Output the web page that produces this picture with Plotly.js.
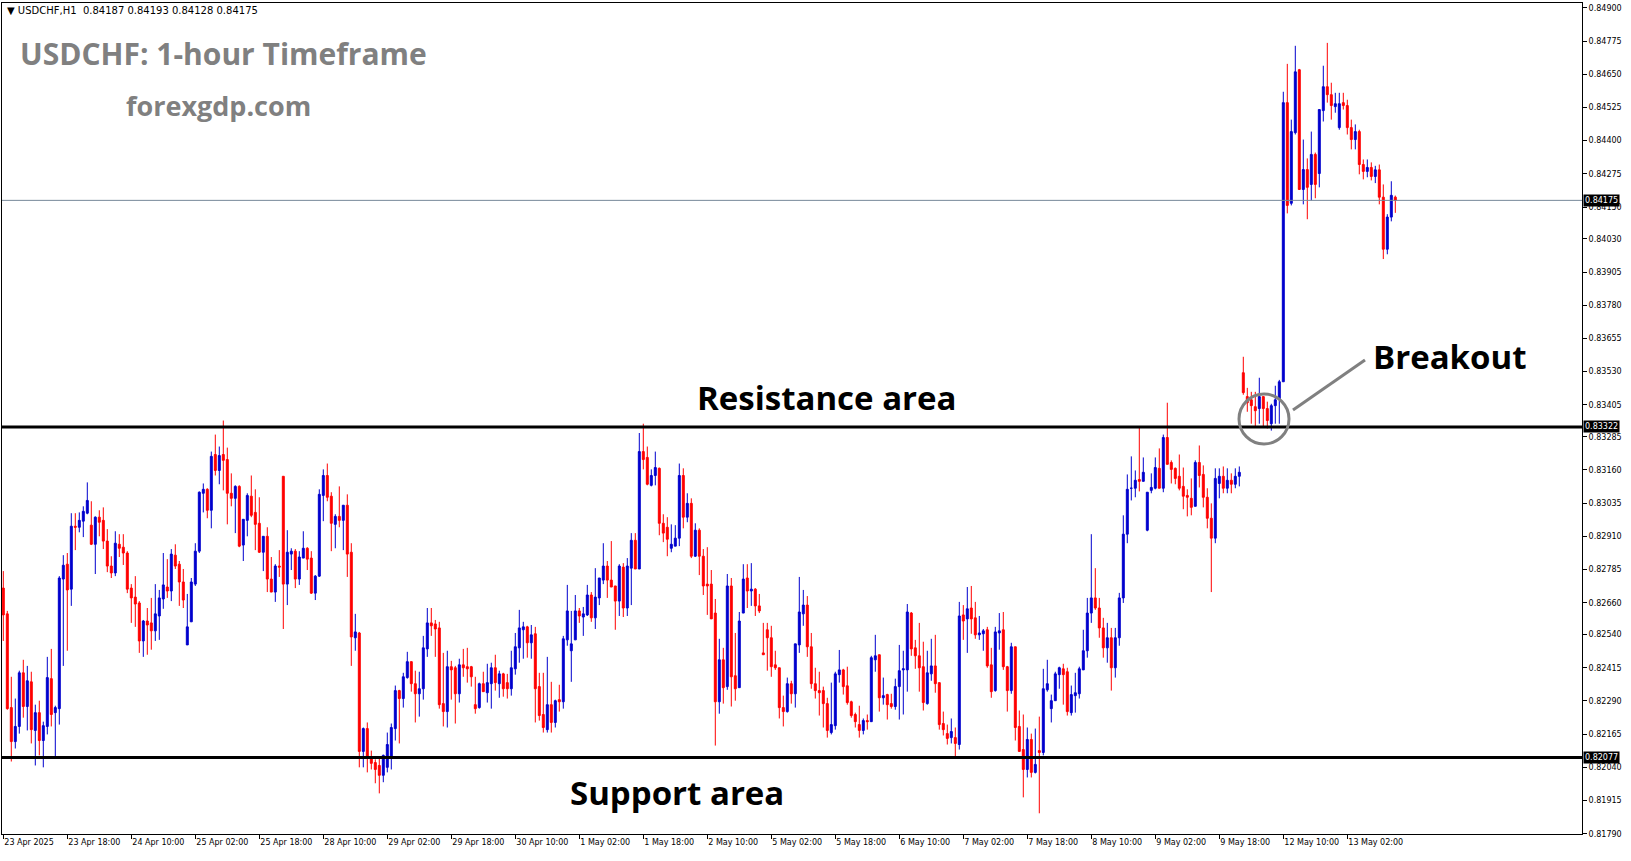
<!DOCTYPE html>
<html><head><meta charset="utf-8">
<script src="https://cdn.plot.ly/plotly-3.0.1.min.js"></script>
<style>html,body{margin:0;padding:0;background:#fff;}#chart{width:1631px;height:861px;}</style>
</head><body><div id="chart"></div>
<script>
const openP = [0.82715,0.82618,0.82265,0.82137,0.82194,0.82396,0.82269,0.82362,0.82179,0.82246,0.82141,0.82194,0.82374,0.82246,0.82261,0.82749,0.82805,0.82711,0.82948,0.82944,0.82967,0.82997,0.82952,0.82880,0.82982,0.82970,0.82892,0.82798,0.82772,0.82880,0.82869,0.82847,0.82715,0.82681,0.82659,0.82516,0.82591,0.82584,0.82554,0.82610,0.82674,0.82719,0.82704,0.82839,0.82805,0.82738,0.82501,0.82588,0.82730,0.82854,0.83072,0.83087,0.83008,0.83218,0.83158,0.83218,0.83199,0.83072,0.83053,0.83098,0.82877,0.82970,0.83061,0.83000,0.82959,0.82850,0.82910,0.82749,0.82700,0.82798,0.83136,0.82730,0.82843,0.82854,0.82749,0.82828,0.82865,0.82828,0.82696,0.82760,0.83064,0.83139,0.83061,0.82955,0.82985,0.82970,0.83027,0.82850,0.82528,0.82546,0.82100,0.82186,0.82073,0.82058,0.82047,0.82010,0.82040,0.82081,0.82186,0.82329,0.82299,0.82378,0.82438,0.82355,0.82317,0.82336,0.82486,0.82584,0.82580,0.82565,0.82280,0.82250,0.82419,0.82415,0.82317,0.82426,0.82419,0.82419,0.82276,0.82265,0.82355,0.82321,0.82355,0.82415,0.82355,0.82392,0.82359,0.82336,0.82411,0.82490,0.82558,0.82569,0.82509,0.82543,0.82344,0.82239,0.82182,0.82276,0.82209,0.82295,0.82287,0.82520,0.82479,0.82520,0.82629,0.82606,0.82614,0.82689,0.82603,0.82678,0.82745,0.82798,0.82745,0.82723,0.82666,0.82794,0.82640,0.82790,0.82895,0.82787,0.83229,0.83207,0.83102,0.83139,0.83166,0.82959,0.82944,0.82865,0.82873,0.82903,0.83139,0.82982,0.83034,0.82835,0.82933,0.82835,0.82730,0.82730,0.82621,0.82287,0.82445,0.82344,0.82723,0.82385,0.82340,0.82621,0.82753,0.82704,0.82711,0.82648,0.82471,0.82558,0.82528,0.82426,0.82415,0.82265,0.82250,0.82355,0.82317,0.82501,0.82618,0.82651,0.82494,0.82355,0.82329,0.82329,0.82280,0.82171,0.82197,0.82389,0.82407,0.82347,0.82287,0.82239,0.82201,0.82179,0.82216,0.82212,0.82445,0.82464,0.82302,0.82314,0.82280,0.82269,0.82344,0.82407,0.82407,0.82621,0.82490,0.82460,0.82419,0.82280,0.82392,0.82422,0.82359,0.82205,0.82167,0.82152,0.82152,0.82126,0.82614,0.82599,0.82640,0.82603,0.82539,0.82543,0.82558,0.82426,0.82329,0.82546,0.82558,0.82419,0.82329,0.82494,0.82194,0.82107,0.82032,0.82145,0.82021,0.82103,0.82096,0.82332,0.82261,0.82291,0.82389,0.82411,0.82400,0.82246,0.82310,0.82317,0.82407,0.82479,0.82621,0.82678,0.82640,0.82565,0.82490,0.82528,0.82415,0.82528,0.82678,0.82918,0.83091,0.83091,0.83124,0.83117,0.82933,0.83083,0.83091,0.83166,0.83091,0.83282,0.83188,0.83166,0.83136,0.83098,0.83064,0.83053,0.83023,0.83188,0.83143,0.83057,0.82978,0.82903,0.83109,0.83136,0.83091,0.83121,0.83106,0.83136,0.83526,0.83436,0.83424,0.83398,0.83391,0.83436,0.83391,0.83334,0.83402,0.83428,0.83492,0.84543,0.84164,0.84430,0.84667,0.84216,0.84291,0.84235,0.84348,0.84276,0.84513,0.84603,0.84573,0.84528,0.84449,0.84543,0.84532,0.84449,0.84404,0.84434,0.84310,0.84284,0.84299,0.84265,0.84290,0.84187,0.83991,0.84112,0.84187];
const highP = [0.82779,0.82629,0.82381,0.82299,0.82404,0.82445,0.82422,0.82400,0.82276,0.82291,0.82212,0.82456,0.82486,0.82272,0.82760,0.82839,0.82847,0.82997,0.82997,0.83000,0.83023,0.83113,0.83042,0.82985,0.83008,0.83019,0.82937,0.82835,0.82929,0.82918,0.82918,0.82854,0.82730,0.82760,0.82666,0.82595,0.82640,0.82678,0.82730,0.82708,0.82847,0.82824,0.82862,0.82880,0.82817,0.82787,0.82693,0.82753,0.82884,0.83079,0.83109,0.83091,0.83229,0.83293,0.83248,0.83346,0.83244,0.83147,0.83102,0.83102,0.82974,0.83072,0.83139,0.83087,0.83057,0.82910,0.82944,0.82832,0.82805,0.82858,0.83136,0.82933,0.82865,0.82862,0.82854,0.82929,0.82869,0.82854,0.82764,0.83087,0.83162,0.83184,0.83076,0.82993,0.83098,0.83027,0.83068,0.82884,0.82618,0.82550,0.82190,0.82209,0.82103,0.82070,0.82077,0.82088,0.82171,0.82205,0.82348,0.82332,0.82396,0.82475,0.82438,0.82404,0.82400,0.82535,0.82640,0.82640,0.82595,0.82588,0.82471,0.82479,0.82441,0.82422,0.82449,0.82486,0.82490,0.82422,0.82381,0.82359,0.82400,0.82430,0.82434,0.82464,0.82404,0.82396,0.82392,0.82479,0.82546,0.82633,0.82588,0.82573,0.82576,0.82569,0.82396,0.82396,0.82456,0.82362,0.82295,0.82351,0.82535,0.82727,0.82629,0.82689,0.82640,0.82644,0.82727,0.82700,0.82790,0.82753,0.82884,0.82817,0.82892,0.82723,0.82805,0.82809,0.82828,0.82922,0.82922,0.83299,0.83334,0.83248,0.83162,0.83229,0.83169,0.82993,0.82982,0.82955,0.82952,0.83184,0.83166,0.83072,0.83053,0.82959,0.82940,0.82862,0.82869,0.82783,0.82674,0.82524,0.82490,0.82768,0.82753,0.82546,0.82625,0.82805,0.82805,0.82809,0.82715,0.82693,0.82584,0.82584,0.82573,0.82479,0.82415,0.82310,0.82378,0.82366,0.82505,0.82757,0.82708,0.82685,0.82546,0.82415,0.82400,0.82344,0.82302,0.82359,0.82400,0.82482,0.82411,0.82419,0.82291,0.82246,0.82272,0.82224,0.82239,0.82460,0.82539,0.82464,0.82378,0.82317,0.82317,0.82374,0.82501,0.82479,0.82655,0.82625,0.82520,0.82584,0.82513,0.82479,0.82524,0.82539,0.82359,0.82250,0.82201,0.82224,0.82190,0.82663,0.82651,0.82719,0.82723,0.82663,0.82610,0.82561,0.82569,0.82490,0.82569,0.82621,0.82625,0.82422,0.82509,0.82494,0.82254,0.82239,0.82190,0.82167,0.82186,0.82231,0.82411,0.82445,0.82314,0.82400,0.82419,0.82430,0.82415,0.82348,0.82396,0.82419,0.82558,0.82678,0.82918,0.82790,0.82678,0.82603,0.82584,0.82565,0.82565,0.82697,0.82989,0.83143,0.83211,0.83158,0.83319,0.83207,0.83076,0.83147,0.83207,0.83241,0.83293,0.83413,0.83196,0.83169,0.83218,0.83169,0.83087,0.83128,0.83196,0.83252,0.83177,0.83091,0.83034,0.83166,0.83166,0.83173,0.83166,0.83147,0.83166,0.83173,0.83586,0.83469,0.83454,0.83454,0.83507,0.83436,0.83417,0.83409,0.83477,0.83499,0.84584,0.84689,0.84479,0.84757,0.84670,0.84404,0.84333,0.84434,0.84355,0.84517,0.84682,0.84768,0.84618,0.84580,0.84580,0.84580,0.84554,0.84479,0.84461,0.84441,0.84329,0.84329,0.84318,0.84305,0.84310,0.84235,0.84123,0.84247,0.84193];
const lowP = [0.82516,0.82257,0.82062,0.82111,0.82167,0.82227,0.82179,0.82130,0.82047,0.82085,0.82040,0.82164,0.82194,0.82081,0.82201,0.82422,0.82479,0.82648,0.82858,0.82925,0.82907,0.82993,0.82877,0.82768,0.82910,0.82862,0.82775,0.82753,0.82760,0.82832,0.82802,0.82696,0.82584,0.82569,0.82471,0.82456,0.82464,0.82483,0.82516,0.82520,0.82637,0.82678,0.82666,0.82787,0.82648,0.82640,0.82501,0.82588,0.82723,0.82847,0.83000,0.82978,0.82940,0.83139,0.83106,0.83083,0.82955,0.83023,0.82922,0.82869,0.82817,0.82910,0.82982,0.82858,0.82847,0.82779,0.82700,0.82700,0.82663,0.82757,0.82561,0.82651,0.82783,0.82715,0.82727,0.82828,0.82783,0.82693,0.82670,0.82757,0.82967,0.83042,0.82854,0.82865,0.82944,0.82858,0.82757,0.82422,0.82479,0.82040,0.82040,0.82021,0.82032,0.81980,0.81942,0.81984,0.82021,0.82032,0.82141,0.82130,0.82265,0.82374,0.82325,0.82209,0.82231,0.82295,0.82456,0.82535,0.82456,0.82261,0.82194,0.82190,0.82295,0.82205,0.82284,0.82381,0.82359,0.82344,0.82242,0.82261,0.82325,0.82284,0.82261,0.82329,0.82302,0.82306,0.82299,0.82310,0.82389,0.82434,0.82449,0.82453,0.82449,0.82209,0.82216,0.82171,0.82171,0.82171,0.82190,0.82250,0.82261,0.82498,0.82362,0.82520,0.82584,0.82535,0.82610,0.82588,0.82561,0.82651,0.82730,0.82678,0.82719,0.82558,0.82610,0.82606,0.82610,0.82651,0.82787,0.82787,0.83162,0.83102,0.83098,0.83102,0.82914,0.82888,0.82835,0.82850,0.82873,0.82873,0.82940,0.82963,0.82828,0.82832,0.82764,0.82689,0.82614,0.82599,0.82122,0.82242,0.82280,0.82332,0.82269,0.82291,0.82340,0.82621,0.82640,0.82648,0.82610,0.82621,0.82464,0.82404,0.82381,0.82407,0.82224,0.82194,0.82246,0.82280,0.82265,0.82471,0.82573,0.82456,0.82336,0.82299,0.82235,0.82190,0.82152,0.82164,0.82182,0.82359,0.82314,0.82276,0.82227,0.82190,0.82152,0.82164,0.82182,0.82212,0.82400,0.82250,0.82276,0.82220,0.82261,0.82257,0.82220,0.82239,0.82325,0.82460,0.82411,0.82325,0.82254,0.82276,0.82366,0.82321,0.82182,0.82160,0.82126,0.82130,0.82081,0.82107,0.82520,0.82471,0.82543,0.82524,0.82520,0.82479,0.82415,0.82302,0.82325,0.82483,0.82407,0.82250,0.82317,0.82141,0.82100,0.81927,0.82002,0.82002,0.82017,0.81867,0.82085,0.82325,0.82209,0.82291,0.82336,0.82276,0.82235,0.82235,0.82246,0.82299,0.82407,0.82453,0.82584,0.82633,0.82528,0.82453,0.82434,0.82329,0.82378,0.82498,0.82659,0.82884,0.83045,0.83057,0.83079,0.83117,0.82929,0.83072,0.83087,0.83091,0.83076,0.83181,0.83109,0.83106,0.83083,0.83012,0.82985,0.82989,0.83023,0.83094,0.83019,0.82940,0.82700,0.82884,0.83053,0.83072,0.83072,0.83072,0.83091,0.83098,0.83443,0.83379,0.83334,0.83323,0.83334,0.83323,0.83316,0.83308,0.83334,0.83334,0.83492,0.84126,0.84156,0.84423,0.84216,0.84160,0.84104,0.84175,0.84183,0.84224,0.84472,0.84543,0.84479,0.84505,0.84441,0.84517,0.84423,0.84367,0.84367,0.84273,0.84254,0.84262,0.84250,0.84240,0.84160,0.83954,0.83972,0.84096,0.84128];
const closeP = [0.82614,0.82261,0.82137,0.82194,0.82396,0.82269,0.82366,0.82182,0.82246,0.82141,0.82197,0.82378,0.82239,0.82265,0.82753,0.82801,0.82708,0.82948,0.82944,0.82970,0.83004,0.83045,0.82880,0.82982,0.82963,0.82892,0.82798,0.82772,0.82884,0.82865,0.82847,0.82711,0.82678,0.82655,0.82516,0.82591,0.82576,0.82554,0.82618,0.82678,0.82727,0.82704,0.82843,0.82798,0.82738,0.82670,0.82569,0.82738,0.82854,0.83076,0.83087,0.83008,0.83211,0.83158,0.83214,0.83196,0.83072,0.83053,0.83098,0.82873,0.82974,0.83064,0.82989,0.82955,0.82850,0.82910,0.82749,0.82700,0.82798,0.82794,0.82730,0.82850,0.82854,0.82749,0.82832,0.82865,0.82824,0.82696,0.82760,0.83068,0.83139,0.83057,0.82959,0.82985,0.82970,0.83027,0.82843,0.82531,0.82550,0.82100,0.82186,0.82077,0.82055,0.82032,0.82010,0.82085,0.82126,0.82190,0.82329,0.82299,0.82381,0.82438,0.82355,0.82317,0.82336,0.82490,0.82584,0.82573,0.82561,0.82276,0.82250,0.82419,0.82407,0.82317,0.82426,0.82415,0.82411,0.82381,0.82261,0.82355,0.82325,0.82359,0.82415,0.82359,0.82392,0.82336,0.82336,0.82415,0.82494,0.82565,0.82569,0.82509,0.82539,0.82336,0.82235,0.82190,0.82276,0.82209,0.82291,0.82287,0.82524,0.82629,0.82505,0.82629,0.82610,0.82618,0.82689,0.82603,0.82681,0.82753,0.82798,0.82745,0.82719,0.82666,0.82798,0.82640,0.82798,0.82895,0.82787,0.83229,0.83199,0.83106,0.83139,0.83169,0.82959,0.82922,0.82899,0.82880,0.82903,0.83139,0.82982,0.83034,0.82835,0.82933,0.82835,0.82723,0.82723,0.82599,0.82287,0.82445,0.82340,0.82723,0.82381,0.82336,0.82591,0.82749,0.82704,0.82711,0.82648,0.82629,0.82464,0.82528,0.82419,0.82415,0.82265,0.82250,0.82355,0.82317,0.82505,0.82625,0.82651,0.82494,0.82355,0.82329,0.82321,0.82280,0.82179,0.82201,0.82392,0.82407,0.82344,0.82284,0.82235,0.82212,0.82179,0.82216,0.82212,0.82453,0.82460,0.82302,0.82310,0.82276,0.82269,0.82344,0.82404,0.82411,0.82625,0.82486,0.82460,0.82415,0.82284,0.82396,0.82422,0.82355,0.82201,0.82182,0.82149,0.82175,0.82130,0.82610,0.82591,0.82637,0.82599,0.82539,0.82546,0.82554,0.82422,0.82325,0.82550,0.82554,0.82419,0.82329,0.82494,0.82190,0.82100,0.82032,0.82145,0.82021,0.82051,0.82096,0.82336,0.82355,0.82291,0.82392,0.82415,0.82389,0.82250,0.82314,0.82321,0.82411,0.82479,0.82621,0.82678,0.82640,0.82565,0.82490,0.82528,0.82415,0.82528,0.82678,0.82918,0.83087,0.83091,0.83121,0.83117,0.83151,0.83076,0.83094,0.83169,0.83091,0.83282,0.83181,0.83162,0.83128,0.83091,0.83061,0.83057,0.83019,0.83188,0.83139,0.83057,0.82978,0.82903,0.83128,0.83136,0.83091,0.83121,0.83106,0.83136,0.83151,0.83451,0.83413,0.83402,0.83383,0.83436,0.83391,0.83346,0.83402,0.83424,0.83492,0.84543,0.84156,0.84434,0.84659,0.84216,0.84291,0.84224,0.84348,0.84235,0.84517,0.84603,0.84573,0.84532,0.84539,0.84539,0.84532,0.84449,0.84404,0.84434,0.84310,0.84284,0.84299,0.84265,0.84290,0.84187,0.83991,0.84112,0.84194,0.84175];

const timeLabels = ["23 Apr 2025","23 Apr 18:00","24 Apr 10:00","25 Apr 02:00","25 Apr 18:00","28 Apr 10:00","29 Apr 02:00","29 Apr 18:00","30 Apr 10:00","1 May 02:00","1 May 18:00","2 May 10:00","5 May 02:00","5 May 18:00","6 May 10:00","7 May 02:00","7 May 18:00","8 May 10:00","9 May 02:00","9 May 18:00","12 May 10:00","13 May 02:00"];
const labelStep = 16;
const priceTicks = ["0.84900","0.84775","0.84650","0.84525","0.84400","0.84275","0.84150","0.84030","0.83905","0.83780","0.83655","0.83530","0.83405","0.83285","0.83160","0.83035","0.82910","0.82785","0.82660","0.82540","0.82415","0.82290","0.82165","0.82040","0.81915","0.81790"];
const resistance = 0.83322;
const support = 0.82077;
const lastPrice = 0.84175;
const header = "\u25BC USDCHF,H1  0.84187 0.84193 0.84128 0.84175";

const xs = openP.map((_, i) => i);
const tickIdx = timeLabels.map((_, i) => i * labelStep);

// frame in px
const W = 1631, H = 861, L = 2, R = 1582, T = 3, B = 834;
const px = X => (X - L) / (R - L);
const py = Y => (B - Y) / (B - T);

const trace = {
  type: 'candlestick', x: xs, open: openP, high: highP, low: lowP, close: closeP,
  increasing: {line: {color: '#0000cd', width: 1}, fillcolor: '#0000cd'},
  decreasing: {line: {color: '#ff0000', width: 1}, fillcolor: '#ff0000'},
  whiskerwidth: 0, hoverinfo: 'none', showlegend: false
};

const bold = {family: 'Open Sans', color: '#000', size: 33, weight: 700};
const layout = {
  width: W, height: H,
  margin: {l: L, r: W - R, t: T, b: H - B, pad: 0},
  paper_bgcolor: '#fff', plot_bgcolor: '#fff',
  showlegend: false,
  xaxis: {
    range: [-0.325, (R - L) / 4 - 0.325], showgrid: false, zeroline: false,
    rangeslider: {visible: false},
    tickmode: 'array', tickvals: tickIdx, ticktext: timeLabels,
    ticks: 'outside', ticklen: 4, tickcolor: '#000', tickwidth: 1,
    ticklabelposition: 'outside right',
    tickfont: {family: 'DejaVu Sans', size: 8, color: '#000'},
    showline: true, linecolor: '#000', linewidth: 1, mirror: true, fixedrange: true
  },
  yaxis: {
    side: 'right', range: [0.81789, 0.849182], showgrid: false, zeroline: false,
    tickmode: 'array', tickvals: priceTicks.map(Number), ticktext: priceTicks,
    ticks: 'outside', ticklen: 4, tickcolor: '#000', tickwidth: 1,
    tickfont: {family: 'DejaVu Sans', size: 8, color: '#000'},
    showline: true, linecolor: '#000', linewidth: 1, mirror: true, fixedrange: true
  },
  shapes: [
    {type: 'line', xref: 'paper', yref: 'y', x0: 0, x1: 1, y0: lastPrice, y1: lastPrice, line: {color: '#778899', width: 1}},
    {type: 'line', xref: 'paper', yref: 'y', x0: 0, x1: 1, y0: resistance, y1: resistance, line: {color: '#000', width: 3}},
    {type: 'line', xref: 'paper', yref: 'y', x0: 0, x1: 1, y0: support, y1: support, line: {color: '#000', width: 3}},
    {type: 'circle', xref: 'paper', yref: 'paper', x0: px(1239), x1: px(1289), y0: py(444), y1: py(394), line: {color: '#808080', width: 3}},
    {type: 'line', xref: 'paper', yref: 'paper', x0: px(1293), y0: py(410), x1: px(1365), y1: py(360), line: {color: '#808080', width: 3}}
  ],
  annotations: [
    {xref: 'paper', yref: 'paper', x: px(5), y: py(11), xanchor: 'left', yanchor: 'middle', showarrow: false, text: header, font: {family: 'DejaVu Sans', size: 10, color: '#000'}},
    {xref: 'paper', yref: 'paper', x: px(18), y: py(54), xanchor: 'left', yanchor: 'middle', showarrow: false, text: 'USDCHF: 1-hour Timeframe', font: {family: 'Open Sans', size: 30, color: '#808080', weight: 700}},
    {xref: 'paper', yref: 'paper', x: px(218), y: py(106), xanchor: 'center', yanchor: 'middle', showarrow: false, text: 'forexgdp.com', font: {family: 'Open Sans', size: 27, color: '#808080', weight: 700}},
    {xref: 'paper', yref: 'paper', x: px(827), y: py(397), xanchor: 'center', yanchor: 'middle', showarrow: false, text: 'Resistance area', font: bold},
    {xref: 'paper', yref: 'paper', x: px(677), y: py(792), xanchor: 'center', yanchor: 'middle', showarrow: false, text: 'Support area', font: bold},
    {xref: 'paper', yref: 'paper', x: px(1450), y: py(357), xanchor: 'center', yanchor: 'middle', showarrow: false, text: 'Breakout', font: bold},
    ...[lastPrice, resistance, support].map(v => ({
      xref: 'paper', yref: 'y', x: 1, y: v, xanchor: 'left', yanchor: 'middle', showarrow: false,
      text: v.toFixed(5), bgcolor: '#000', borderpad: 1, xshift: 1,
      font: {family: 'DejaVu Sans', size: 8, color: '#fff'}
    }))
  ]
};

Plotly.newPlot('chart', [trace], layout, {displayModeBar: false, staticPlot: true});
</script>
</body></html>
